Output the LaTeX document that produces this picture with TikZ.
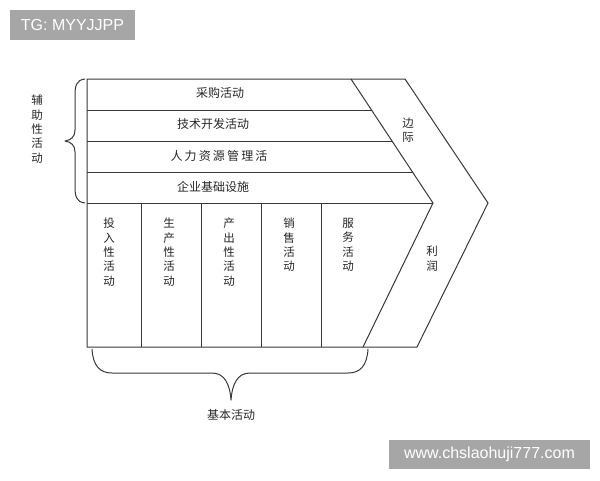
\documentclass[tikz,border=0pt]{standalone}
\usepackage{fontspec}
\usetikzlibrary{calc}
\setmainfont{Liberation Sans}
\newfontfamily\cjk{Noto Sans CJK SC}
\newfontfamily\cjkwide[LetterSpace=18]{Noto Sans CJK SC}
\definecolor{wmgray}{HTML}{A6A6A6}
\tikzset{
  ln/.style={draw=black!78, line width=1pt},
  br/.style={draw=black!78, line width=1pt, line join=round},
  rowtxt/.style={font=\cjk\fontsize{12}{14}\selectfont, text=black!85, inner sep=0pt},
  coltxt/.style={font=\cjk\fontsize{11.5}{14.3}\selectfont, text=black!85, align=center, inner sep=0pt, anchor=north},
  wm/.style={fill=wmgray, text=white, font=\fontsize{16}{18}\selectfont, inner sep=0pt, minimum height=30pt}
}
\begin{document}
\begin{tikzpicture}[x=1pt,y=-1pt]
\useasboundingbox (0,0) rectangle (600,480);
% outline coordinates
\coordinate (TL) at (87,79);
\coordinate (A) at (351,79);
\coordinate (OT) at (405,79);
\coordinate (OP) at (488,203);
\coordinate (OB) at (417,347);
\coordinate (IP) at (433,203);
\coordinate (IB) at (363,347);
\coordinate (BL) at (87,347);
% outer chevron shape
\draw[ln] (TL) -- (OT) -- (OP) -- (OB) -- (BL) -- cycle;
\draw[ln] (A) -- (IP) -- (IB);
% support rows
\draw[ln] (87,110) -- ($(A)!0.25!(IP)$);
\draw[ln] (87,141) -- ($(A)!0.5!(IP)$);
\draw[ln] (87,172) -- ($(A)!0.75!(IP)$);
\draw[ln] (87,203) -- (IP);
% primary columns
\foreach \x in {141,201,261,321} \draw[ln] (\x,203) -- (\x,347);
% row texts
\node[rowtxt] (r1) at (220,93) {采购活动};
\node[rowtxt] (r2) at (213,124) {技术开发活动};
\node[rowtxt] (r3) at (219,156) {\cjkwide 人力资源管理活};
\node[rowtxt] (r4) at (213,187) {企业基础设施};
% column texts
\node[coltxt] (c1) at (109,218) {投\\入\\性\\活\\动};
\node[coltxt] (c2) at (169,218) {生\\产\\性\\活\\动};
\node[coltxt] (c3) at (229,218) {产\\出\\性\\活\\动};
\node[coltxt] (c4) at (289,218) {销\\售\\活\\动};
\node[coltxt] (c5) at (348,218) {服\\务\\活\\动};
% margin
\node[coltxt] (m1) at (408,118) {边\\际};
\node[coltxt] (m2) at (432,246) {利\\润};
% left brace
\draw[br] (85,79) .. controls (76,80) and (75,86) .. (75,96)
  -- (75,130) .. controls (75,137) and (71,140) .. (65,141)
  .. controls (71,142) and (75,145) .. (75,152)
  -- (75,186) .. controls (75,196) and (76,202) .. (85,203);
\node[coltxt] (lab1) at (37,95) {辅\\助\\性\\活\\动};
% bottom brace
\draw[br] (92,349) .. controls (93,366) and (100,373) .. (112,373)
  -- (212,373) .. controls (225,373) and (230,385) .. (231,400)
  .. controls (232,385) and (237,373) .. (250,373)
  -- (348,373) .. controls (360,373) and (367,366) .. (368,349);
\node[rowtxt] (lab2) at (231,415) {基本活动};
% watermarks
\node[wm, minimum width=125pt] (w1) at (72.5,25) {TG: MYYJJPP};
\node[wm, minimum width=201pt, minimum height=29pt] (w2) at (489.5,454.5) {www.chslaohuji777.com};
\end{tikzpicture}
\end{document}
